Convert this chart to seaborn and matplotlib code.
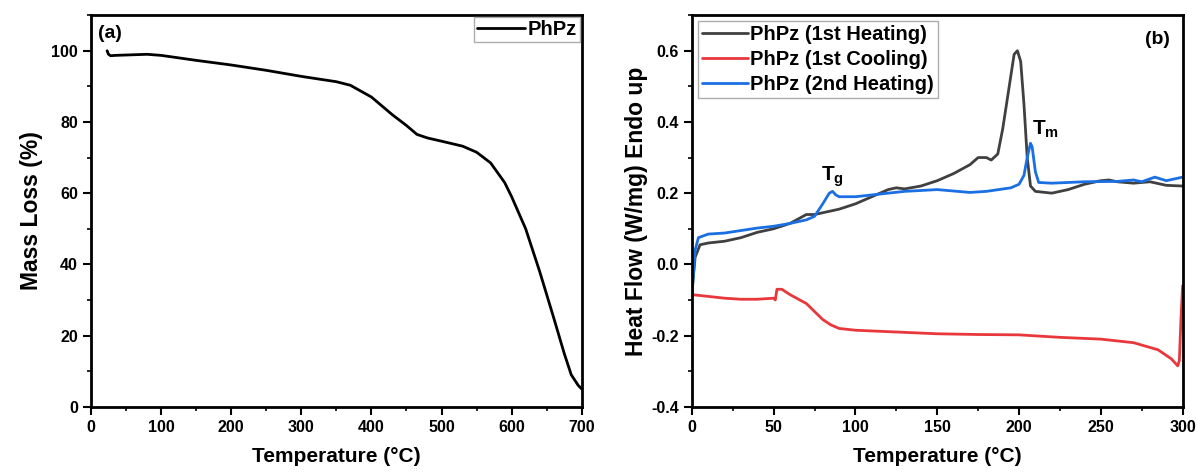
import numpy as np
import pandas as pd
import seaborn as sns
import matplotlib.pyplot as plt
from matplotlib.ticker import MultipleLocator, AutoMinorLocator

sns.set_style('ticks')
plt.rcParams['font.family'] = ['Liberation Sans', 'DejaVu Sans']
plt.rcParams['font.weight'] = 'bold'
plt.rcParams['axes.labelweight'] = 'bold'
plt.rcParams['text.color'] = 'black'
plt.rcParams['axes.labelcolor'] = 'black'
plt.rcParams['xtick.color'] = 'black'
plt.rcParams['ytick.color'] = 'black'
plt.rcParams['axes.edgecolor'] = 'black'
plt.rcParams['mathtext.fontset'] = 'custom'
plt.rcParams['mathtext.rm'] = 'Liberation Sans:bold'
plt.rcParams['mathtext.bf'] = 'Liberation Sans:bold'

# TGA (panel a)
tga_temp = [23, 25, 28, 35, 50, 80, 100, 150, 200, 250, 300, 350, 370, 400, 430, 450, 465,
            480, 500, 530, 550, 570, 590, 600, 620, 640, 660, 675, 685, 695, 700]
tga_mass = [100, 99, 98.6, 98.7, 98.8, 99, 98.7, 97.3, 96, 94.5, 92.8, 91.3, 90.3, 87, 82, 79,
            76.5, 75.5, 74.6, 73.2, 71.5, 68.5, 63, 59, 50, 38, 25, 15, 9, 6, 5]

# DSC (panel b)
h1_temp = [0, 2, 5, 10, 20, 30, 40, 50, 60, 70, 75, 80, 90, 100, 110, 120, 125, 130, 140, 150,
           160, 170, 175, 180, 183, 187, 190, 194, 197, 199, 201, 203, 205, 207, 210, 220, 230,
           240, 250, 255, 260, 270, 280, 290, 300]
h1_flow = [-0.08, 0.02, 0.055, 0.06, 0.065, 0.075, 0.09, 0.1, 0.115, 0.14, 0.14, 0.145, 0.155,
           0.17, 0.19, 0.21, 0.215, 0.212, 0.22, 0.235, 0.255, 0.28, 0.3, 0.3, 0.293, 0.31, 0.38,
           0.5, 0.59, 0.6, 0.57, 0.45, 0.3, 0.22, 0.205, 0.2, 0.21, 0.225, 0.235, 0.237, 0.232,
           0.228, 0.232, 0.222, 0.22]

c1_temp = [0, 10, 20, 30, 40, 50, 51, 52, 55, 60, 70, 80, 85, 90, 100, 125, 150, 175, 200, 225,
           250, 270, 285, 293, 297, 298, 299, 300]
c1_flow = [-0.085, -0.09, -0.095, -0.098, -0.098, -0.095, -0.1, -0.07, -0.07, -0.085, -0.11,
           -0.155, -0.17, -0.18, -0.185, -0.19, -0.195, -0.197, -0.198, -0.205, -0.21, -0.22,
           -0.24, -0.265, -0.285, -0.27, -0.15, -0.06]

h2_temp = [0, 2, 4, 10, 20, 30, 40, 50, 60, 70, 75, 80, 84, 86, 88, 90, 100, 110, 120, 130, 150,
           170, 180, 195, 200, 203, 205, 207, 208, 210, 212, 220, 240, 260, 270, 275, 283, 290, 300]
h2_flow = [-0.09, 0.04, 0.075, 0.085, 0.088, 0.095, 0.102, 0.107, 0.115, 0.125, 0.135, 0.17,
           0.2, 0.205, 0.195, 0.19, 0.19, 0.195, 0.2, 0.205, 0.21, 0.202, 0.205, 0.215, 0.225,
           0.25, 0.3, 0.34, 0.33, 0.26, 0.23, 0.228, 0.232, 0.233, 0.237, 0.232, 0.245, 0.235, 0.245]

labels = ['PhPz (1st Heating)', 'PhPz (1st Cooling)', 'PhPz (2nd Heating)']
colors = ['#404040', '#e8383b', '#1a6fe3']

dsc = pd.concat([
    pd.DataFrame({'T': h1_temp, 'HF': h1_flow, 'run': labels[0]}),
    pd.DataFrame({'T': c1_temp, 'HF': c1_flow, 'run': labels[1]}),
    pd.DataFrame({'T': h2_temp, 'HF': h2_flow, 'run': labels[2]}),
])
tga = pd.DataFrame({'T': tga_temp, 'mass': tga_mass})

fig = plt.figure(figsize=(11.97, 4.73), dpi=100)
ax1 = fig.add_axes([0.076, 0.140, 0.410, 0.828])
ax2 = fig.add_axes([0.578, 0.140, 0.410, 0.828])

sns.lineplot(data=tga, x='T', y='mass', ax=ax1, color='black', lw=2, label='PhPz', sort=False)
sns.lineplot(data=dsc, x='T', y='HF', hue='run', palette=colors, ax=ax2, lw=2, sort=False,
             estimator=None)

ax1.set_xlim(0, 700)
ax1.set_ylim(0, 110)
ax1.xaxis.set_major_locator(MultipleLocator(100))
ax1.yaxis.set_major_locator(MultipleLocator(20))
ax2.set_xlim(0, 300)
ax2.set_ylim(-0.4, 0.7)
ax2.xaxis.set_major_locator(MultipleLocator(50))
ax2.yaxis.set_major_locator(MultipleLocator(0.2))
ax2.yaxis.set_major_formatter(plt.FuncFormatter(lambda v, p: '%.1f' % v))

for ax in (ax1, ax2):
    ax.xaxis.set_minor_locator(AutoMinorLocator(2))
    ax.yaxis.set_minor_locator(AutoMinorLocator(2))
    ax.tick_params(which='major', direction='out', length=6, width=1.5, labelsize=11.5)
    ax.tick_params(which='minor', direction='out', length=3, width=1.2)
    for s in ax.spines.values():
        s.set_linewidth(2)
    for t in ax.get_xticklabels() + ax.get_yticklabels():
        t.set_fontweight('bold')
    ax.set_xlabel('Temperature (°C)', fontsize=15, fontweight='bold', labelpad=9)

ax1.set_ylabel('Mass Loss (%)', fontsize=16.5, fontweight='bold', labelpad=6)
ax2.set_ylabel('Heat Flow (W/mg) Endo up', fontsize=16.5, fontweight='bold', labelpad=2)

leg1 = ax1.legend(loc='upper right', fontsize=14.5, handlelength=2.4, handletextpad=0.1,
                  fancybox=False, borderpad=0.15, borderaxespad=0.1)
leg1.get_frame().set_edgecolor('#999999')
leg2 = ax2.legend(loc='upper left', fontsize=14.5, handlelength=2.3, handletextpad=0.1,
                  fancybox=False, borderpad=0.2, borderaxespad=0.3, labelspacing=0.3)
leg2.get_frame().set_edgecolor('#999999')
for leg in (leg1, leg2):
    leg.get_frame().set_linewidth(1)
    for t in leg.get_texts():
        t.set_fontweight('bold')

ax1.text(0.015, 0.975, '(a)', transform=ax1.transAxes, ha='left', va='top', fontsize=14,
         fontweight='bold')
ax2.text(0.975, 0.96, '(b)', transform=ax2.transAxes, ha='right', va='top', fontsize=14,
         fontweight='bold')
ax2.text(79, 0.235, r'$\mathbf{T_g}$', fontsize=15)
ax2.text(208, 0.365, r'$\mathbf{T_m}$', fontsize=15)

fig.savefig('out.png', dpi=100)
